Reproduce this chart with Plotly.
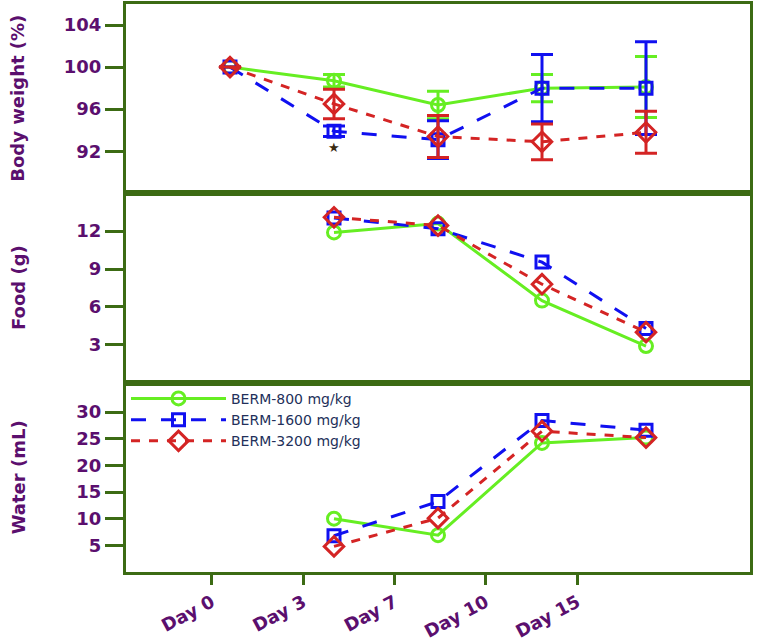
import plotly.graph_objects as go

days = ["Day 0", "Day 3", "Day 7", "Day 10", "Day 15"]
series_names = ["BERM-800 mg/kg", "BERM-1600 mg/kg", "BERM-3200 mg/kg"]

bw_800 = [100.0, 98.7, 96.4, 98.0, 98.1]
bw_800_err = [0.0, 0.6, 1.3, 1.3, 2.9]
bw_1600 = [100.0, 93.9, 93.1, 98.0, 98.0]
bw_1600_err = [0.0, 0.5, 1.8, 3.2, 4.4]
bw_3200 = [100.0, 96.5, 93.4, 92.9, 93.8]
bw_3200_err = [0.0, 1.4, 2.0, 1.7, 2.0]

food_800 = [None, 11.9, 12.6, 6.5, 2.9]
food_1600 = [None, 13.05, 12.2, 9.55, 4.3]
food_3200 = [None, 13.1, 12.45, 7.8, 4.0]

water_800 = [None, 10.0, 6.9, 24.2, 25.2]
water_1600 = [None, 6.8, 13.2, 28.4, 26.6]
water_3200 = [None, 4.8, 10.1, 26.4, 25.2]

colors = ["#66EE22", "#1010F0", "#D42424"]
dashes = ["solid", "longdash", "dash"]
symbols = ["circle-open", "square-open", "diamond-open"]
sizes = [13, 12, 15]

PURPLE = "#5B0F6E"
GREEN = "#3C6B14"
FONT = "DejaVu Sans"

xi = list(range(len(days)))

fig = go.Figure()

panels = [
    ("x", "y", [water_800, water_1600, water_3200], None, True),
    ("x2", "y2", [food_800, food_1600, food_3200], None, False),
    ("x3", "y3", [bw_800, bw_1600, bw_3200], [bw_800_err, bw_1600_err, bw_3200_err], False),
]

for xa, ya, vals, errs, show in panels:
    for k in range(3):
        tr = dict(
            x=xi, y=vals[k], xaxis=xa, yaxis=ya, mode="lines+markers",
            name=series_names[k], legendgroup=series_names[k], showlegend=show,
            line=dict(color=colors[k], width=3, dash=dashes[k]),
            marker=dict(symbol=symbols[k], size=sizes[k], color=colors[k],
                        line=dict(color=colors[k], width=3)),
            connectgaps=False,
        )
        if errs is not None:
            tr["error_y"] = dict(type="data", array=errs[k], visible=True,
                                 color=colors[k], thickness=3, width=11)
        fig.add_trace(go.Scatter(**tr))

# invisible trace for the tick-label axis
fig.add_trace(go.Scatter(x=xi, y=[None] * len(xi), xaxis="x4", yaxis="y",
                         showlegend=False, hoverinfo="skip"))

frame = dict(showline=True, linecolor=GREEN, linewidth=3, mirror=True,
             showgrid=False, zeroline=False, automargin=False)

def yax(domain, rng, ticks):
    return dict(domain=domain, range=rng, tickvals=ticks, ticks="outside",
                ticklen=18, tickwidth=3, tickcolor=GREEN,
                tickfont=dict(family=FONT, size=18, color=PURPLE, weight="bold"),
                **frame)

def xax(anchor):
    return dict(domain=[0, 1], range=[-1, 5], anchor=anchor, showticklabels=False,
                ticks="", **frame)

fig.update_layout(
    width=757, height=642,
    margin=dict(l=126, r=7, t=4, b=70),
    paper_bgcolor="white", plot_bgcolor="white",
    xaxis=xax("y"),
    xaxis2=xax("y2"),
    xaxis3=xax("y3"),
    xaxis4=dict(overlaying="x", anchor="y", side="bottom", range=[-0.94, 5.89],
                tickvals=xi, ticktext=days, tickangle=-28, ticks="outside",
                ticklen=12, tickwidth=3, tickcolor=GREEN, showline=False,
                showgrid=False, zeroline=False, automargin=False,
                tickfont=dict(family=FONT, size=18, color=PURPLE, weight="bold")),
    yaxis=yax([0, 0.3333], [0, 35.5], [5, 10, 15, 20, 25, 30]),
    yaxis2=yax([0.3333, 0.6667], [0, 15], [3, 6, 9, 12]),
    yaxis3=yax([0.6667, 1], [88, 106], [92, 96, 100, 104]),
    showlegend=True,
    legend=dict(x=0.0, y=0.333, xanchor="left", yanchor="top",
                bgcolor="rgba(0,0,0,0)", itemwidth=95, tracegroupgap=0,
                font=dict(family=FONT, size=14, color="#23305A")),
)

titles = [("Body weight (%)", 0.8333), ("Food (g)", 0.5), ("Water (mL)", 0.1667)]
for txt, yc in titles:
    fig.add_annotation(text=txt, xref="paper", yref="paper", x=-0.173, y=yc,
                       textangle=-90, showarrow=False, xanchor="center", yanchor="middle",
                       font=dict(family=FONT, size=18, color=PURPLE, weight="bold"))

fig.add_annotation(text="★", x=1, y=92.4, xref="x3", yref="y3", showarrow=False,
                   font=dict(family=FONT, size=13, color="#3A2A10"))

fig.write_html("out.html", config={"displayModeBar": False},
               post_script="document.body.style.margin='0';")
